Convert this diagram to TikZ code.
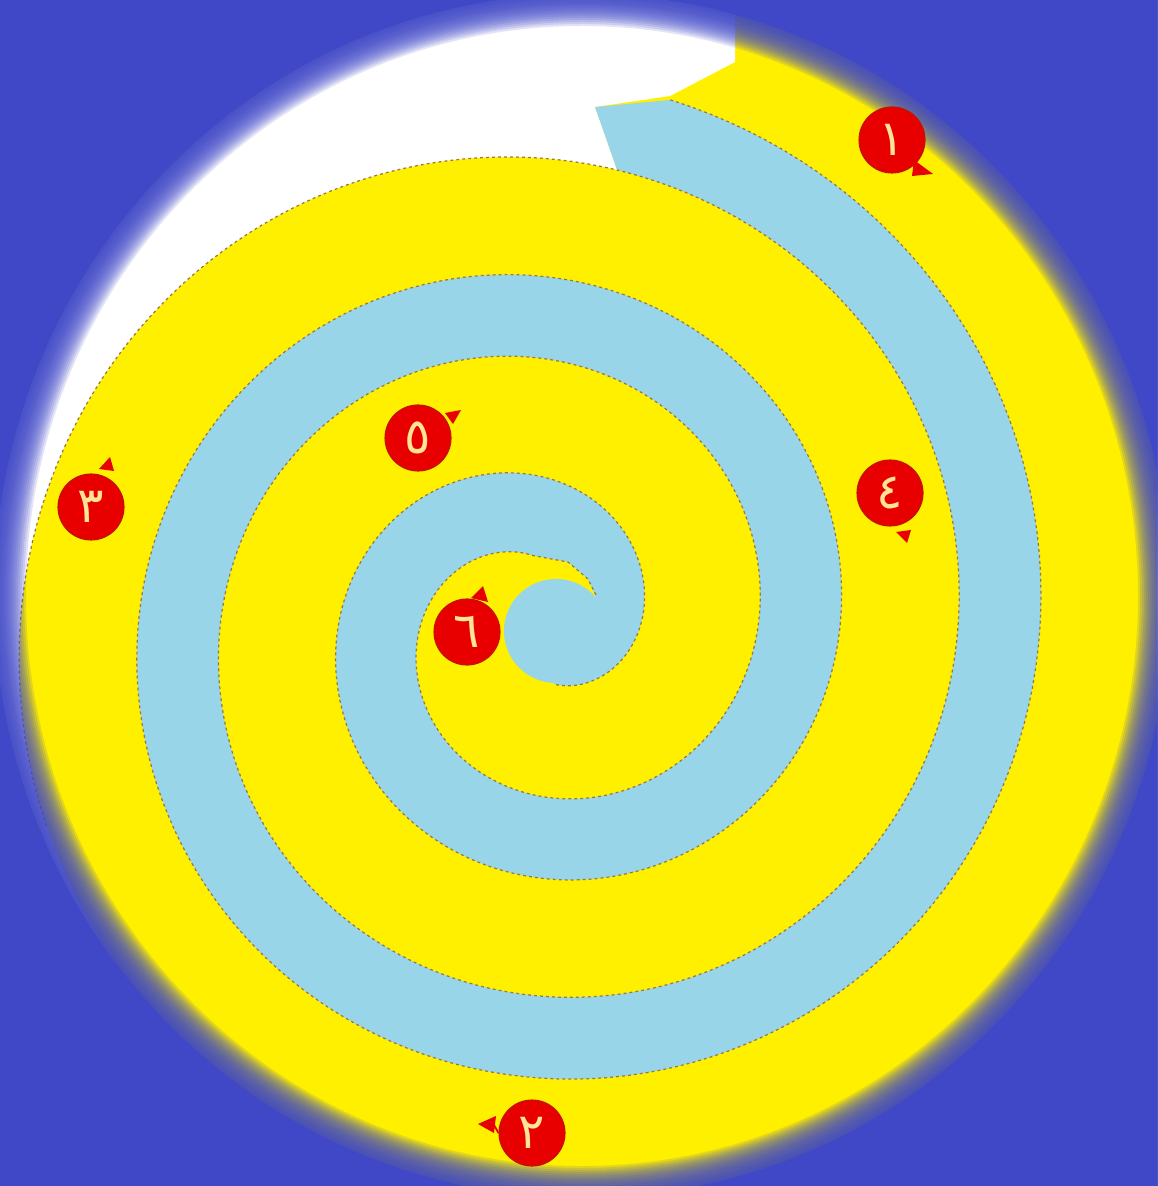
\documentclass[tikz,border=0pt]{standalone}
\usepackage{fontspec}
\newfontfamily\arabicfont[Script=Arabic]{DejaVu Sans}
\definecolor{bgblue}{RGB}{64,72,200}
\definecolor{sunyellow}{RGB}{255,240,0}
\definecolor{pathblue}{RGB}{152,213,232}
\definecolor{mred}{RGB}{232,0,0}
\definecolor{mrim}{RGB}{190,20,0}
\definecolor{digitcol}{RGB}{255,228,150}
\definecolor{ants}{RGB}{150,120,70}
\begin{document}
\begin{tikzpicture}[x=0.01cm,y=-0.01cm,
  marker/.style={circle, fill=mred, draw=mrim, line width=0.3pt, minimum size=0.66cm, inner sep=0pt, text=digitcol, font=\arabicfont\fontsize{14}{14}\selectfont},
  pointer/.style={fill=mred},
  antsedge/.style={draw=ants, line width=0.35pt, dash pattern=on 0.8pt off 0.9pt}]
\useasboundingbox (0,0) rectangle (1157,1186);
\fill[bgblue] (0,0) rectangle (1157,1186);
\begin{scope}
  \clip (582,596) ellipse [x radius=588, y radius=602];
  \fill[sunyellow] (0,0) rectangle (1157,1186);
  % white region outside the spiral
  \fill[white] plot[domain=-130:9.7, samples=120] ({539+(469-0.5556*\x)*sin(\x)}, {627-(469-0.5556*\x)*cos(\x)})
     -- (595,107) -- (670,96) -- (735,62) -- (735,-100) -- (-100,-100) -- (-100,980) -- cycle;
  % light blue spiral path
  \fill[pathblue] (595,107)
     -- plot[domain=14:885, samples=400] ({539+(551-0.5556*\x)*sin(\x)}, {627-(551-0.5556*\x)*cos(\x)})
     -- plot[domain=92:321, samples=60] ({556+52*cos(\x)}, {631+52*sin(\x)})
     -- (588,579) -- (568,562)
     -- plot[domain=715:9.7, samples=350] ({539+(469-0.5556*\x)*sin(\x)}, {627-(469-0.5556*\x)*cos(\x)})
     -- cycle;
  % dotted edges
  \draw[antsedge] plot[domain=14:885, samples=400] ({539+(551-0.5556*\x)*sin(\x)}, {627-(551-0.5556*\x)*cos(\x)});
  \draw[antsedge] plot[domain=-112:715, samples=450] ({539+(469-0.5556*\x)*sin(\x)}, {627-(469-0.5556*\x)*cos(\x)}) -- (568,562) -- (588,579) -- (597,597);
\end{scope}
% soft edge of the disc
\foreach \d [evaluate=\d as \rx using 572+\d, evaluate=\d as \ry using 586+\d] in {-16,-14,...,16} {
  \fill[bgblue, opacity=0.15, even odd rule] (-20,-20) rectangle (1180,1210) (582,596) ellipse [x radius=\rx, y radius=\ry];
}
% markers
\node[marker] (m1) at (892,140) {١};
\node[marker] (m2) at (532,1133) {٢};
\node[marker] (m3) at (91,507) {٣};
\node[marker] (m4) at (890,493) {٤};
\node[marker] (m5) at (418,438) {٥};
\node[marker] (m6) at (467,632) {٦};
\fill[pointer] (914,160) -- (933,174) -- (912,176) -- cycle;
\fill[pointer] (478,1124) -- (496,1116) -- (494,1133) -- cycle;
\draw[mred, line width=0.5pt] (m2.west) -- (494,1125);
\fill[pointer] (110,457) -- (99,469) -- (114,471) -- cycle;
\fill[pointer] (907,543) -- (896,532) -- (911,530) -- cycle;
\fill[pointer] (461,410) -- (445,413) -- (453,424) -- cycle;
\fill[pointer] (483,586) -- (471,598) -- (488,602) -- cycle;
\end{tikzpicture}
\end{document}
